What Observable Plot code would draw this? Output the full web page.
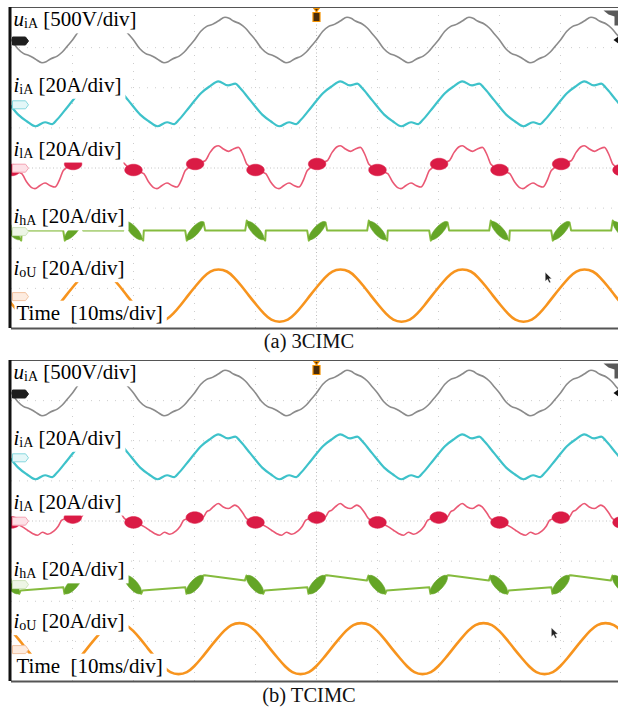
<!DOCTYPE html>
<html><head><meta charset="utf-8">
<script src="https://cdn.jsdelivr.net/npm/d3@7"></script>
<script src="https://cdn.jsdelivr.net/npm/@observablehq/plot@0.6"></script>
<style>
html,body{margin:0;padding:0;background:#fff;}
body{width:618px;height:709px;overflow:hidden;}
svg{display:block;}
.cap{font-size:20.5px;line-height:23px;height:23px;text-align:center;color:#111;}
.cap.b{height:26px;padding-top:1px;}
</style></head><body><div id="root"></div>
<script>
// ---------- data ----------
const PERIOD = 20;                       // ms, one fundamental period
const timeDomain = [-50, 49.51];         // ms on screen, 10 ms/div
const divDomain = [-4, 4];               // vertical divisions
const gridTimes = [-40, -30, -20, -10, 10, 20, 30, 40];
const gridDivs = [-3, -2, -1, 1, 2, 3];
const FONT = "Liberation Serif";

const channelOffsets = [3.19, 1.6, 0.02, -1.56, -3.18];   // divisions
const channelPerDiv = [500, 20, 20, 20, 20];              // V/div, A/div
const channelLabels = ["u|iA| [500V/div]", "i|iA| [20A/div]", "i|lA| [20A/div]", "i|hA| [20A/div]", "i|oU| [20A/div]"];
const labelLevels = [3.53, 1.9, 0.31, -1.38, -2.67];
const timeLabel = "||Time\u00a0 [10ms/div]";
const timeLabelLevel = -3.78;
const captions = ["(a) 3CIMC", "(b) TCIMC"];

// u_iA (V), one period
const uiA_t = [0, 1.0, 2.0, 2.94, 3.89, 5.0, 5.67, 6.39, 7.5, 8.33, 9.17, 10, 11.0, 12.0, 12.94, 13.89, 15.0, 15.67, 16.39, 17.5, 18.33, 19.17];
const uiA_v = [0, 106, 170, 195, 236, 284, 272, 236, 200, 150, 75, 0, -106, -170, -195, -236, -284, -272, -236, -200, -150, -75];
// i_iA (A), one period
const iiA_t = [-0.4, 1.1, 2.5, 3.9, 5.5, 6.7, 7.4, 8.7, 9.6, 11.1, 12.5, 13.9, 15.5, 16.7, 17.4, 18.7];
const iiA_v = [0, 5.4, 8.7, 11.2, 9.2, 10.1, 8.1, 3.4, 0, -5.4, -8.7, -11.2, -9.2, -10.1, -8.1, -3.4];
// i_lA (A)
const ilA_a_t = [0.1, 1.74, 2.56, 3.38, 3.92, 4.74, 5.56, 6.38, 7.2, 8.02, 8.56, 10.03, 11.67, 12.49, 13.31, 13.85, 14.67, 15.49, 16.31, 17.13, 17.95, 18.49];
const ilA_a_v = [1.5, 3.2, 7.4, 10.2, 10.7, 9.1, 7.9, 9.1, 9.9, 5.7, 1.6, -1.4, -3.2, -7.4, -10.2, -10.7, -9.1, -7.9, -9.1, -9.9, -5.7, -1.6];
const ilA_b_t = [0.05, 1.43, 1.97, 2.51, 3.07, 3.89, 4.71, 5.53, 6.61, 7.16, 7.98, 8.53, 10.0, 11.8, 12.62, 13.44, 14.26, 15.08, 15.95, 16.93, 17.6, 18.25, 19.07];
const ilA_b_v = [1.3, 1.6, 4.1, 5.0, 6.6, 8.3, 6.6, 5.8, 7.5, 6.6, 3.3, 0.8, -1.1, -3.3, -5.0, -6.6, -7.5, -6.0, -7.0, -5.5, -3.3, 0, 1.0];
const ilA_a_blob_t = [0.1, 10.0], ilA_a_blob_v = [1.6, -1.4];
const ilA_b_blob_t = [0.05, 10.0], ilA_b_blob_v = [1.3, -1.1];
// i_hA (A)
const ihA_a_t = [-1.52, -1.26, 1.48, 1.75, 8.31, 8.57, 11.59, 11.69];
const ihA_a_v = [0, -5, 4.1, 0, 0, 5, -5, 0];
const ihA_b_t = [-1.5, -1.31, 1.43, 1.69, 8.25, 8.52, 11.26, 11.5];
const ihA_b_v = [-1.85, -5.1, 4.0, 4.2, 1.5, 4.0, -5.1, -3.5];
const ihA_a_blob_t = [0.1, 10.0], ihA_a_blob_v = [0, 0];
const ihA_b_blob_t = [0.06, 9.9], ihA_b_blob_v = [-0.5, -0.5];
const ihA_blob_slant = ["up", "down"];
// i_oU (A)
const ioU_a_t = [-1.07, 0.2, 1.4, 2.6, 3.93, 5.3, 6.5, 7.7, 8.93, 10.2, 11.4, 12.6, 13.93, 15.3, 16.5, 17.7];
const ioU_a_v = [0, 4.8, 9.0, 12.0, 13.0, 12.0, 9.0, 4.8, 0, -4.8, -9.0, -12.0, -13.0, -12.0, -9.0, -4.8];
const ioU_b_t = [2.38, 3.65, 4.85, 6.05, 7.38, 8.75, 9.95, 11.15, 12.38, 13.65, 14.85, 16.05, 17.38, 18.75, 19.95, 21.15];
const ioU_b_v = [0, 4.7, 8.8, 11.7, 12.7, 11.7, 8.8, 4.7, 0, -4.7, -8.8, -11.7, -12.7, -11.7, -8.8, -4.7];
// cursor arrow position (ms, div)
const cursorA = [37.5, -2.6], cursorB = [38.5, -2.66];

// ---------- helpers ----------
function tile(ts, vs, ch) {
  const rows = [];
  for (let k = -4; k <= 4; k++) ts.forEach((t, i) => {
    const tt = t + k * PERIOD;
    if (tt > -58 && tt < 58) rows.push({t: tt, y: channelOffsets[ch] + vs[i] / channelPerDiv[ch]});
  });
  return rows.sort((a, b) => a.t - b.t);
}
function points(ts, vs, ch, extra) {
  const rows = [];
  for (let k = -4; k <= 4; k++) ts.forEach((t, i) => {
    const tt = t + k * PERIOD;
    if (tt > -53 && tt < 53) rows.push({t: tt, y: channelOffsets[ch] + vs[i] / channelPerDiv[ch], s: extra ? extra[i] : null});
  });
  return rows;
}
function ellipse(rx, ry, deg) {
  const c = Math.cos(deg * Math.PI / 180), s = Math.sin(deg * Math.PI / 180);
  const P = (x, y) => [x * c - y * s, x * s + y * c];
  const k = 0.5523;
  return {draw(ctx) {
    ctx.moveTo(...P(rx, 0));
    const segs = [[[rx, k * ry], [k * rx, ry], [0, ry]], [[-k * rx, ry], [-rx, k * ry], [-rx, 0]],
                  [[-rx, -k * ry], [-k * rx, -ry], [0, -ry]], [[k * rx, -ry], [rx, -k * ry], [rx, 0]]];
    for (const [a, b, d] of segs) ctx.bezierCurveTo(...P(...a), ...P(...b), ...P(...d));
    ctx.closePath();
  }};
}
function poly(pts) {
  return {draw(ctx) { ctx.moveTo(...pts[0]); for (const p of pts.slice(1)) ctx.lineTo(...p); ctx.closePath(); }};
}
const tagSym = poly([[-8, -4], [5, -4], [8, 0], [5, 4], [-8, 4]]);
const trigSym = {draw(ctx) {
  ctx.moveTo(-3.5, -4); ctx.lineTo(3.5, -4); ctx.lineTo(3.5, 5); ctx.lineTo(-3.5, 5); ctx.closePath();
  ctx.moveTo(-2.5, -8); ctx.lineTo(2.5, -8); ctx.lineTo(0, -4.5); ctx.closePath();
}};
const cornerSym = poly([[-15, 0], [0, 0], [0, 15], [-4, 15], [-4, 6], [-10, 4]]);
const endSym = poly([[-5, 0], [0, -3.5], [0, 3.5]]);
const cursorSym = poly([[0, 0], [0, 9], [2.2, 7], [4, 10.5], [5.5, 9.8], [3.8, 6.5], [6.5, 6.3]]);

const tagFill = ["#1e1e1e", "#e4f7f8", "#fde1e7", "#eef6e6", "#fdece0"];
const tagStroke = ["#1e1e1e", "#86d8de", "#f3a3b3", "#cfe3bc", "#f2c3a0"];

function decorate(svg) {
  const ns = "http://www.w3.org/2000/svg";
  svg.querySelectorAll("text").forEach(t => {
    const s = t.textContent;
    if (!s.includes("|")) return;
    const [it, sub, rest] = s.split("|");
    t.textContent = "";
    t.setAttribute("font-family", FONT);
    if (it) { const a = document.createElementNS(ns, "tspan"); a.setAttribute("font-style", "italic"); a.textContent = it; t.appendChild(a); }
    if (sub) { const b = document.createElementNS(ns, "tspan"); b.setAttribute("font-size", "14"); b.setAttribute("dy", "2"); b.textContent = sub; t.appendChild(b); }
    const c = document.createElementNS(ns, "tspan"); if (sub) c.setAttribute("dy", "-2"); c.textContent = rest; t.appendChild(c);
    const bb = t.getBBox();
    const r = document.createElementNS(ns, "rect");
    r.setAttribute("x", bb.x - 2); r.setAttribute("y", bb.y); r.setAttribute("width", bb.width + 6); r.setAttribute("height", bb.height + 2);
    r.setAttribute("fill", "white");
    if (t.getAttribute("transform")) r.setAttribute("transform", t.getAttribute("transform"));
    t.parentNode.insertBefore(r, t);
  });
}

function panel(p) {
  const labelRows = channelLabels.map((l, i) => ({t: timeDomain[0], y: labelLevels[i], label: l}));
  const tagRows = channelOffsets.map((o, i) => ({t: timeDomain[0], y: o, fill: tagFill[i], stroke: tagStroke[i]}));
  const blobsL = points(p.lbt, p.lbv, 2);
  const blobsH = points(p.hbt, p.hbv, 3, ihA_blob_slant);
  return Plot.plot({
    width: 618, height: 330, marginTop: 7, marginBottom: 2, marginLeft: 11, marginRight: 0,
    x: {domain: timeDomain, axis: null}, y: {domain: divDomain, axis: null},
    style: {background: "white"},
    marks: [
      Plot.ruleX(gridTimes, {stroke: "#cdcdcd", strokeDasharray: "1,7"}),
      Plot.ruleY(gridDivs, {stroke: "#cdcdcd", strokeDasharray: "1,7"}),
      Plot.ruleX([0], {stroke: "#bdbdbd", strokeDasharray: "1,2.5"}),
      Plot.ruleY([0], {stroke: "#c4c4c4", strokeDasharray: "1,2.5"}),
      Plot.line(tile(uiA_t, uiA_v, 0), {x: "t", y: "y", stroke: "#8b8b8b", strokeWidth: 1.6, curve: "monotone-x", clip: true}),
      Plot.line(tile(iiA_t, iiA_v, 1), {x: "t", y: "y", stroke: "#3ec2ca", strokeWidth: 2.2, curve: "monotone-x", clip: true}),
      Plot.line(tile(p.lt, p.lv, 2), {x: "t", y: "y", stroke: "#ea5874", strokeWidth: 1.6, curve: "monotone-x", clip: true}),
      Plot.line(tile(p.ht, p.hv, 3), {x: "t", y: "y", stroke: "#85bb3e", strokeWidth: 2, clip: true}),
      Plot.line(tile(p.ot, p.ov, 4), {x: "t", y: "y", stroke: "#f7941e", strokeWidth: 2.6, curve: "natural", clip: true}),
      Plot.dot(blobsL, {x: "t", y: "y", symbol: ellipse(8.8, 5.8, 0), fill: "#da1b45", stroke: "#da1b45", strokeWidth: 0.5, clip: true}),
      Plot.dot(blobsH.filter(d => d.s === "up"), {x: "t", y: "y", symbol: ellipse(11.8, p.bw, -48), fill: "#64a526", stroke: "#64a526", strokeWidth: 0.6, clip: true}),
      Plot.dot(blobsH.filter(d => d.s === "down"), {x: "t", y: "y", symbol: ellipse(11.8, p.bw, 48), fill: "#64a526", stroke: "#64a526", strokeWidth: 0.6, clip: true}),
      Plot.text(labelRows, {x: "t", y: "y", text: "label", textAnchor: "start", lineAnchor: "bottom", dx: 2, fontSize: 21, fontFamily: FONT, fill: "#000"}),
      Plot.text([{t: timeDomain[0], y: timeLabelLevel}], {x: "t", y: "y", text: () => timeLabel, textAnchor: "start", lineAnchor: "bottom", dx: 5, fontSize: 21, fontFamily: FONT, fill: "#000"}),
      Plot.ruleY([divDomain[1]], {stroke: "#555", strokeWidth: 1.2}),
      Plot.ruleY([divDomain[0]], {stroke: "#555", strokeWidth: 2}),
      Plot.ruleX([timeDomain[0]], {stroke: "#111", strokeWidth: 3, dx: -1.5}),
      Plot.dot(tagRows, {x: "t", y: "y", dx: 9, dy: 1, symbol: tagSym, fill: "fill", stroke: "stroke", strokeWidth: 1}),
      Plot.dot([{t: 0, y: divDomain[1]}], {x: "t", y: "y", dy: 9, symbol: trigSym, fill: "#4a2c0a", stroke: "#f39200", strokeWidth: 1.2}),
      Plot.dot([{t: timeDomain[1], y: divDomain[1]}], {x: "t", y: "y", dy: 3, symbol: cornerSym, fill: "#5a5a5a"}),
      Plot.dot([{t: timeDomain[1], y: channelOffsets[0]}], {x: "t", y: "y", symbol: endSym, fill: "#111"}),
      Plot.dot([{t: p.cur[0], y: p.cur[1]}], {x: "t", y: "y", symbol: cursorSym, fill: "#222", stroke: "#fff", strokeWidth: 0.4})
    ]
  });
}

const root = document.getElementById("root");
const panels = [
  {lt: ilA_a_t, lv: ilA_a_v, lbt: ilA_a_blob_t, lbv: ilA_a_blob_v, ht: ihA_a_t, hv: ihA_a_v, hbt: ihA_a_blob_t, hbv: ihA_a_blob_v, ot: ioU_a_t, ov: ioU_a_v, bw: 3.9, cur: cursorA},
  {lt: ilA_b_t, lv: ilA_b_v, lbt: ilA_b_blob_t, lbv: ilA_b_blob_v, ht: ihA_b_t, hv: ihA_b_v, hbt: ihA_b_blob_t, hbv: ihA_b_blob_v, ot: ioU_b_t, ov: ioU_b_v, bw: 4.6, cur: cursorB}
];
panels.forEach((p, i) => {
  const svg = panel(p);
  root.appendChild(svg);
  decorate(svg);
  const cap = document.createElement("div");
  cap.className = "cap" + (i === 1 ? " b" : "");
  cap.style.fontFamily = "'Liberation Serif'";
  cap.textContent = captions[i];
  root.appendChild(cap);
});
</script></body></html>
